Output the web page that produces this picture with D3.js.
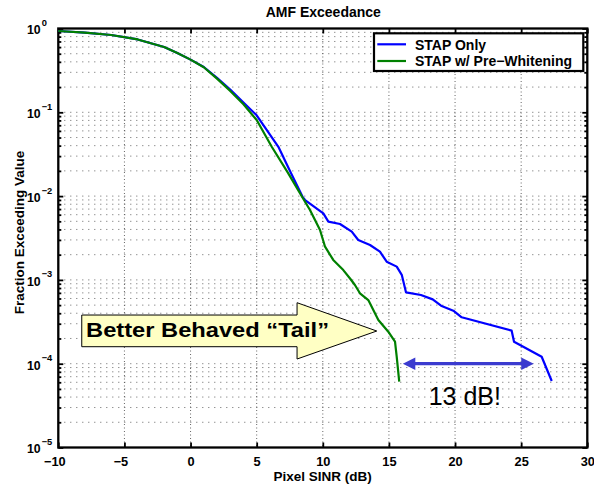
<!DOCTYPE html>
<html><head><meta charset="utf-8">
<script src="https://cdn.jsdelivr.net/npm/d3@7"></script>
<style>
body{margin:0;background:#fff;}
svg{display:block;font-family:"Liberation Sans",Arial,Helvetica,sans-serif;}
</style></head>
<body><svg id="c" width="594" height="485"></svg>
<script>
// ---- data ----
const title = "AMF Exceedance";
const xLabel = "Pixel SINR (dB)";
const yLabel = "Fraction Exceeding Value";
const seriesNames = ["STAP Only", "STAP w/ Pre\u2212Whitening"];
const seriesColors = ["#0000ff", "#008000"];
const xTicks = [-10, -5, 0, 5, 10, 15, 20, 25, 30];
const yExponents = [0, -1, -2, -3, -4, -5];

const blueX = [-10, -8, -6, -4, -2, -1, 0, 1, 2, 3, 4, 5, 6.64, 7.6, 8.47, 8.66, 10.04, 10.42, 11.3, 12.19, 12.68, 13.57, 14.32, 14.83, 15.59, 15.97, 16.29, 17.42, 18.31, 18.94, 19.87, 20.5, 24.28, 24.46, 26.55, 27.31];
const blueY = [0.933, 0.895, 0.836, 0.740, 0.601, 0.511, 0.425, 0.347, 0.258, 0.187, 0.131, 0.092, 0.0388, 0.0187, 0.0098, 0.00898, 0.00623, 0.00496, 0.00465, 0.00376, 0.00299, 0.00261, 0.00217, 0.00165, 0.00144, 0.00115, 0.000711, 0.000661, 0.000586, 0.000492, 0.000429, 0.000358, 0.000248, 0.000183, 0.000121, 0.0000622];

const greenX = [-10, -8, -6, -4, -2, -1, 0, 1, 2, 3, 4, 5, 6.14, 7.39, 8.43, 9.03, 9.79, 10.17, 10.79, 11.55, 12.06, 12.43, 12.81, 13.44, 14.2, 14.95, 15.46, 15.59, 15.78];
const greenY = [0.933, 0.895, 0.836, 0.740, 0.601, 0.511, 0.425, 0.345, 0.252, 0.180, 0.125, 0.081, 0.0388, 0.0187, 0.00984, 0.00683, 0.00394, 0.00249, 0.00173, 0.00131, 0.00104, 0.000869, 0.000692, 0.000575, 0.000332, 0.000241, 0.000183, 0.000121, 0.000061];

const calloutText = "Better Behaved \u201CTail\u201D";
const calloutTip = [14.08, Math.pow(10, -3.61)];
const spanText = "13 dB!";
const spanFrom = 16.05, spanTo = 25.95, spanY = Math.pow(10, -4.0);

// ---- layout ----
const L = 58.3, R = 587.3, T = 28.5, B = 447.5;
const svg = d3.select("#c");
const x = d3.scaleLinear().domain([-10, 30]).range([L, R]);
const y = d3.scaleLog().domain([1e-5, 1]).range([B, T]);

// all log ticks (major + minor)
const allY = [];
for (let e = -5; e < 0; e++) for (let m = 1; m <= 9; m++) allY.push(m * Math.pow(10, e));
allY.push(1);
const isMajor = v => Math.abs(Math.log10(v) - Math.round(Math.log10(v))) < 1e-9;

// grid
const grid = svg.append("g");
grid.selectAll("line.hg").data(allY.filter(v => v > 1e-5 && v < 1)).join("line")
  .attr("x1", L).attr("x2", R).attr("y1", d => y(d)).attr("y2", d => y(d))
  .attr("stroke", "#555").attr("stroke-width", 0.9).attr("stroke-dasharray", "1,5");
grid.selectAll("line.vg").data(xTicks.filter(v => v > -10 && v < 30)).join("line")
  .attr("y1", T).attr("y2", B).attr("x1", d => x(d)).attr("x2", d => x(d))
  .attr("stroke", "#555").attr("stroke-width", 0.9).attr("stroke-dasharray", "1,2.5");

// axes (ticks inside)
function styleAxis(g) {
  g.select(".domain").remove();
  g.selectAll(".tick line").attr("stroke", "#000").attr("stroke-width", 1.8);
}
const axB = svg.append("g").attr("transform", `translate(0,${B})`)
  .call(d3.axisBottom(x).tickValues(xTicks).tickSizeInner(-5).tickSizeOuter(0)
    .tickFormat(d => d < 0 ? "\u2212" + (-d) : String(d)));
styleAxis(axB);
axB.selectAll(".tick text").attr("y", 0).attr("dy", "18.8px")
  .attr("dx", d => d < 0 ? -4 : 0)
  .attr("font-size", 12.8).attr("font-weight", "bold").attr("fill", "#000")
  .attr("font-family", "Liberation Sans, Arial, sans-serif");
const axT = svg.append("g").attr("transform", `translate(0,${T})`)
  .call(d3.axisTop(x).tickValues(xTicks).tickSizeInner(-5).tickSizeOuter(0).tickFormat(""));
styleAxis(axT);
const axLft = svg.append("g").attr("transform", `translate(${L},0)`)
  .call(d3.axisLeft(y).tickValues(allY).tickSizeInner(-5).tickSizeOuter(0).tickFormat(""));
styleAxis(axLft);
axLft.selectAll(".tick line").attr("x2", d => isMajor(d) ? 5 : 3);
const axRgt = svg.append("g").attr("transform", `translate(${R},0)`)
  .call(d3.axisRight(y).tickValues(allY).tickSizeInner(-5).tickSizeOuter(0).tickFormat(""));
styleAxis(axRgt);
axRgt.selectAll(".tick line").attr("x2", d => isMajor(d) ? -5 : -3);

// y tick labels 10^e
const yl = svg.append("g").attr("font-weight", "bold").attr("fill", "#000");
yExponents.forEach(e => {
  const py = y(Math.pow(10, e));
  const t = yl.append("text").attr("x", 27).attr("y", py + 5.8).attr("font-size", 12.3);
  t.append("tspan").text("10");
  t.append("tspan").attr("dy", -8.3).attr("dx", 1).attr("font-size", 9.3).text(e === 0 ? "0" : "\u2212" + (-e));
});

// frame
svg.append("rect").attr("x", L).attr("y", T).attr("width", R - L).attr("height", B - T)
  .attr("fill", "none").attr("stroke", "#000").attr("stroke-width", 2.3);

// curves
const line = d3.line().x(d => x(d[0])).y(d => y(d[1]));
const blue = blueX.map((v, i) => [v, blueY[i]]);
const green = greenX.map((v, i) => [v, greenY[i]]);
svg.append("path").datum(blue).attr("d", line).attr("fill", "none")
  .attr("stroke", seriesColors[0]).attr("stroke-width", 2.2).attr("stroke-linejoin", "round");
svg.append("path").datum(green).attr("d", line).attr("fill", "none")
  .attr("stroke", seriesColors[1]).attr("stroke-width", 2.2).attr("stroke-linejoin", "round");

// titles
svg.append("text").attr("x", 323.3).attr("y", 16.7).attr("text-anchor", "middle")
  .attr("font-size", 14).attr("font-weight", "bold").text(title);
svg.append("text").attr("x", 322.7).attr("y", 480.5).attr("text-anchor", "middle")
  .attr("font-size", 13.5).attr("font-weight", "bold").text(xLabel);
svg.append("text").attr("transform", "translate(23.8,232.5) rotate(-90)").attr("text-anchor", "middle")
  .attr("font-size", 13.5).attr("font-weight", "bold").text(yLabel);

// legend
const lg = svg.append("g");
lg.append("rect").attr("x", 374).attr("y", 33.3).attr("width", 209.3).attr("height", 37.7)
  .attr("fill", "#fff").attr("stroke", "#000").attr("stroke-width", 2.2);
[44.3, 61].forEach((ly, i) => {
  lg.append("line").attr("x1", 377.3).attr("x2", 406).attr("y1", ly).attr("y2", ly)
    .attr("stroke", seriesColors[i]).attr("stroke-width", 2.2);
  lg.append("text").attr("x", 415).attr("y", ly + 5.3).attr("font-size", 14)
    .attr("font-weight", "bold").text(seriesNames[i]);
});

// callout arrow
const tx = x(calloutTip[0]), ty = y(calloutTip[1]);
const pts = [[tx - 295, ty - 16], [tx - 79.7, ty - 16], [tx - 79.7, ty - 28.3], [tx, ty],
  [tx - 79.7, ty + 28], [tx - 79.7, ty + 15.7], [tx - 295, ty + 15.7]];
svg.append("polygon").attr("points", pts.map(p => p.join(",")).join(" "))
  .attr("fill", "#ffffc4").attr("stroke", "#000").attr("stroke-width", 1);
svg.append("text").attr("x", tx - 290.7).attr("y", ty + 6.3).attr("font-size", 20)
  .attr("font-weight", "bold").attr("textLength", 243).attr("lengthAdjust", "spacingAndGlyphs")
  .text(calloutText);

// span double arrow
const sx1 = x(spanFrom), sx2 = x(spanTo), sy = y(spanY);
const ac = "#3b3bcf";
svg.append("line").attr("x1", sx1 + 8).attr("x2", sx2 - 8).attr("y1", sy).attr("y2", sy)
  .attr("stroke", ac).attr("stroke-width", 3.2);
svg.append("polygon").attr("points", `${sx1},${sy} ${sx1 + 12.5},${sy - 6.3} ${sx1 + 12.5},${sy + 6.3}`).attr("fill", ac);
svg.append("polygon").attr("points", `${sx2},${sy} ${sx2 - 12.5},${sy - 6.3} ${sx2 - 12.5},${sy + 6.3}`).attr("fill", ac);
svg.append("text").attr("x", (sx1 + sx2) / 2 - 3.5).attr("y", 405).attr("text-anchor", "middle")
  .attr("font-size", 25).text(spanText);
</script></body></html>
